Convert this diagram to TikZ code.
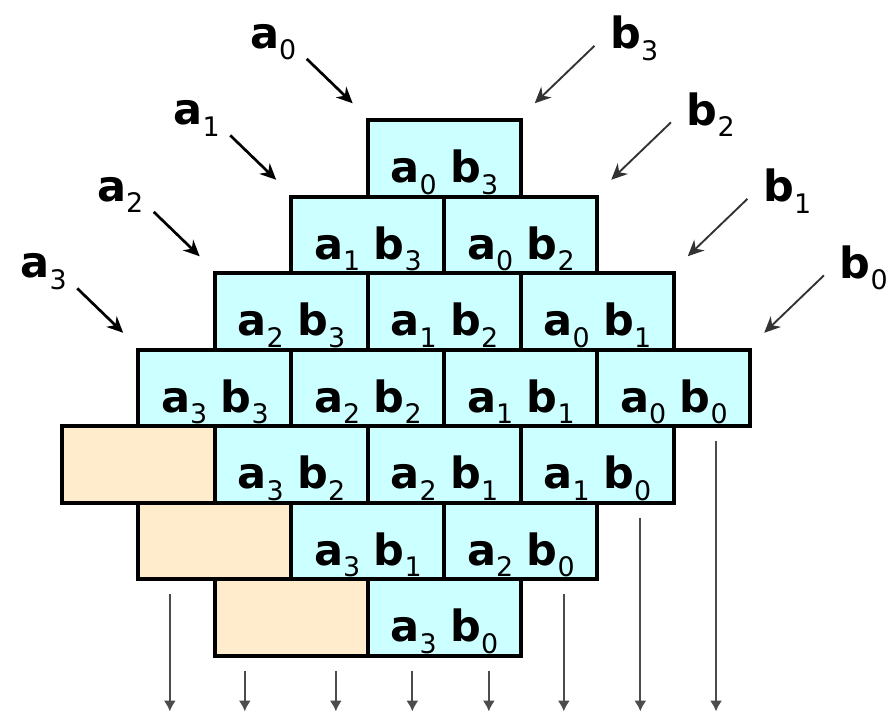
\documentclass[tikz,border=0pt]{standalone}
\usepackage{fontspec}
\setmainfont{DejaVu Sans}
\usepackage{tikz}
\usetikzlibrary{arrows.meta,positioning,calc}
\definecolor{cellblue}{RGB}{204,255,255}
\definecolor{cellsand}{RGB}{255,236,204}
\newcommand{\tm}[2]{\textbf{#1}\raisebox{-4.2pt}{\fontsize{10}{10}\selectfont #2}}

\begin{document}
\begin{tikzpicture}[
  font=\fontsize{16}{19}\selectfont,
  cell/.style={draw, line width=1.5pt, fill=#1, anchor=north west, outer sep=0pt, inner sep=0pt,
    minimum width=2cm, minimum height=1cm, text height=0.7cm, text depth=0.06cm},
  cell/.default=cellblue,
  lbl/.style={inner sep=0pt},
  arra/.style={-{Stealth[length=6pt,width=5.5pt]}, black, line width=1pt},
  arrb/.style={-{Stealth[length=6pt,width=5.5pt]}, black!80, line width=0.7pt},
  arrd/.style={-{Latex[length=4pt,width=4.5pt]}, black!70, line width=0.8pt, shorten <=0.2cm}]
\useasboundingbox (0,0) rectangle (11.647,-9.373);
\foreach \i in {0,...,3}
  \foreach \j in {0,...,3} {
    \pgfmathtruncatemacro{\row}{\i+3-\j}
    \pgfmathtruncatemacro{\col}{7-\i-\j}
    \node[cell] (p\i\j) at ({0.81+\col},{-1.57-\row}) {\tm{a}{\i} \tm{b}{\j}};
  }
\foreach \k in {0,1,2}
  \node[cell=cellsand] (e\k) at ({0.81+\k},{-5.57-\k}) {};
\foreach \i in {0,...,3} {
  \coordinate (sa\i) at ($(p\i3.north west)+(-0.8,0.8)$);
  \coordinate (ta\i) at ($(p\i3.north west)+(-0.2,0.22)$);
  \node[lbl] (la\i) at ($(sa\i)+(-0.44,0.22)$) {\tm{a}{\i}};
  \draw[arra] (sa\i) -- (ta\i);
}
\foreach \j in {0,...,3} {
  \coordinate (sb\j) at ($(p0\j.north east)+(0.96,0.97)$);
  \coordinate (tb\j) at ($(p0\j.north east)+(0.18,0.22)$);
  \node[lbl] (lb\j) at ($(sb\j)+(0.52,0.1)$) {\tm{b}{\j}};
  \draw[arrb] (sb\j) -- (tb\j);
}
\foreach \x/\from [count=\k] in {2.22/e1,3.20/e2,4.39/e2,5.39/p30,6.39/p30,7.37/p20,8.37/p10,9.36/p00} {
  \coordinate (o\k) at (\x,-9.3);
  \draw[arrd] (\x,0 |- \from.south) -- (o\k);
}
\end{tikzpicture}
\end{document}
